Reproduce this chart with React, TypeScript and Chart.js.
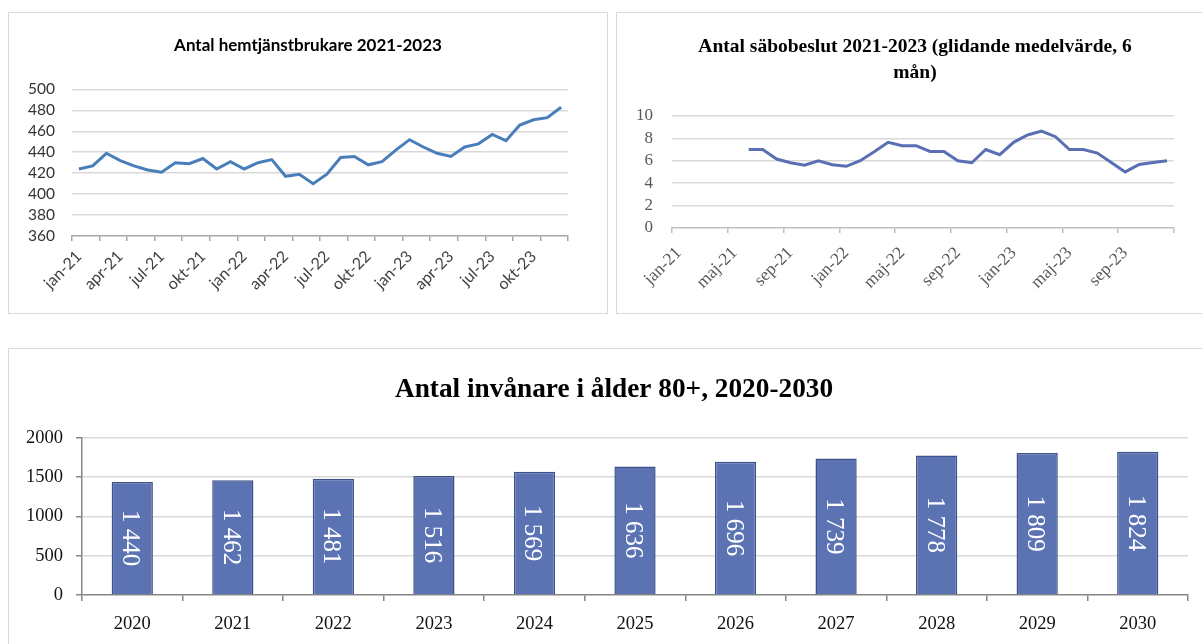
import { useEffect, useRef } from 'react';
import { Chart, registerables } from 'chart.js';

Chart.register(...registerables);

// ---------- DATA ----------
const months = [
  'jan-21', 'feb-21', 'mar-21', 'apr-21', 'maj-21', 'jun-21', 'jul-21', 'aug-21', 'sep-21', 'okt-21', 'nov-21', 'dec-21',
  'jan-22', 'feb-22', 'mar-22', 'apr-22', 'maj-22', 'jun-22', 'jul-22', 'aug-22', 'sep-22', 'okt-22', 'nov-22', 'dec-22',
  'jan-23', 'feb-23', 'mar-23', 'apr-23', 'maj-23', 'jun-23', 'jul-23', 'aug-23', 'sep-23', 'okt-23', 'nov-23', 'dec-23',
];

const hemtjanstValues = [
  424, 427, 439, 432, 427, 423, 421, 430, 429, 434, 424, 431,
  424, 430, 433, 417, 419, 410, 419, 435, 436, 428, 431, 442,
  452, 445, 439, 436, 445, 448, 457, 451, 466, 471, 473, 483,
];

const saboValues: (number | null)[] = [
  null, null, null, null, null, 7.0, 7.0, 6.15, 5.82, 5.6, 6.0, 5.64,
  5.5, 6.0, 6.8, 7.64, 7.34, 7.34, 6.83, 6.83, 6.0, 5.82, 7.0, 6.54,
  7.64, 8.3, 8.65, 8.14, 7.0, 7.0, 6.68, 5.85, 5.0, 5.67, 5.85, 6.0,
];

const years = ['2020', '2021', '2022', '2023', '2024', '2025', '2026', '2027', '2028', '2029', '2030'];
const invanareValues = [1440, 1462, 1481, 1516, 1569, 1636, 1696, 1739, 1778, 1809, 1824];

const title1 = 'Antal hemtjänstbrukare 2021-2023';
const title2 = ['Antal säbobeslut 2021-2023 (glidande medelvärde, 6', 'mån)'];
const title3 = 'Antal invånare i ålder 80+, 2020-2030';

const hemAxis = { min: 360, max: 500, step: 20 };
const saboAxis = { min: 0, max: 10, step: 2 };
const invAxis = { min: 0, max: 2000, step: 500 };

// ---------- HELPERS ----------
const fmtThousands = (v: number) => String(v).replace(/\B(?=(\d{3})+(?!\d))/g, ' ');
const SERIF = '"Liberation Serif", "Times New Roman", serif';
const SANS = 'Lato, "Open Sans", sans-serif';

// invisible right-hand spacer axis (keeps the title centred over the whole chart box)
const spacerAxis = (width: number) => ({
  type: 'linear',
  position: 'right',
  display: true,
  min: 0,
  max: 1,
  grid: { display: false, drawOnChartArea: false, drawTicks: false },
  border: { display: false },
  ticks: { display: false },
  afterFit: (s: any) => {
    s.width = width;
  },
});

const barLabelPlugin = {
  id: 'barLabels',
  afterDatasetsDraw(chart: any) {
    const { ctx } = chart;
    const meta = chart.getDatasetMeta(0);
    const data = chart.data.datasets[0].data as number[];
    ctx.save();
    ctx.fillStyle = '#ffffff';
    ctx.font = `25px ${SERIF}`;
    ctx.textAlign = 'center';
    ctx.textBaseline = 'alphabetic';
    meta.data.forEach((bar: any, i: number) => {
      const { x, y, base } = bar.getProps(['x', 'y', 'base'], true);
      ctx.save();
      ctx.translate(x, (y + base) / 2);
      ctx.rotate(Math.PI / 2);
      ctx.fillText(fmtThousands(data[i]), 0, 9);
      ctx.restore();
    });
    ctx.restore();
  },
};

function config1(): any {
  return {
    type: 'line',
    data: {
      labels: months,
      datasets: [
        {
          data: hemtjanstValues,
          borderColor: '#4a7ebb',
          borderWidth: 3,
          pointRadius: 0,
          tension: 0,
          fill: false,
          yAxisID: 'y',
        },
      ],
    },
    options: {
      animation: false,
      responsive: true,
      maintainAspectRatio: false,
      layout: { padding: { left: 0, right: 0, top: 0, bottom: 0 } },
      plugins: {
        legend: { display: false },
        tooltip: { enabled: false },
        title: {
          display: true,
          text: title1,
          color: '#000000',
          font: { family: SANS, weight: 'bold', size: 17, lineHeight: 1.2 },
          padding: { top: 22, bottom: 34 },
        },
      },
      scales: {
        x: {
          type: 'category',
          offset: true,
          grid: {
            offset: true,
            drawOnChartArea: false,
            drawTicks: true,
            tickLength: 5,
            lineWidth: 1.5,
            color: (c: any) => (c.type !== 'tick' || c.index % 2 === 0 ? '#a6a6a6' : 'rgba(0,0,0,0)'),
          },
          border: { display: true, color: '#a6a6a6', width: 1.5 },
          ticks: {
            autoSkip: false,
            maxRotation: 45,
            minRotation: 45,
            padding: 6,
            color: '#404040',
            font: { family: SANS, size: 16 },
            callback: (_v: any, i: number) => (i % 3 === 0 ? months[i] : ''),
          },
          afterFit: (s: any) => {
            s.height = 77;
          },
        },
        y: {
          min: hemAxis.min,
          max: hemAxis.max,
          ticks: {
            stepSize: hemAxis.step,
            autoSkip: false,
            padding: 17,
            color: '#333333',
            font: { family: SANS, size: 15.5 },
          },
          grid: {
            drawTicks: false,
            lineWidth: 1.5,
            color: (c: any) => (c.tick && c.tick.value === hemAxis.min ? 'rgba(0,0,0,0)' : '#d9d9d9'),
          },
          border: { display: false },
          afterFit: (s: any) => {
            s.width = 63;
          },
        },
        spacer: spacerAxis(39),
      },
    },
  };
}

function config2(): any {
  return {
    type: 'line',
    data: {
      labels: months,
      datasets: [
        {
          data: saboValues,
          borderColor: '#5a6eb4',
          borderWidth: 3,
          pointRadius: 0,
          tension: 0,
          fill: false,
          yAxisID: 'y',
        },
      ],
    },
    options: {
      animation: false,
      responsive: true,
      maintainAspectRatio: false,
      layout: { padding: { left: 0, right: 0, top: 0, bottom: 0 } },
      plugins: {
        legend: { display: false },
        tooltip: { enabled: false },
        title: {
          display: true,
          text: title2,
          color: '#000000',
          font: { family: SERIF, weight: 'bold', size: 19.5, lineHeight: 1.33 },
          padding: { top: 21, bottom: 30 },
        },
      },
      scales: {
        x: {
          type: 'category',
          offset: true,
          grid: {
            offset: true,
            drawOnChartArea: false,
            drawTicks: true,
            tickLength: 5,
            lineWidth: 1.5,
            color: (c: any) => (c.type !== 'tick' || c.index % 4 === 0 ? '#bfbfbf' : 'rgba(0,0,0,0)'),
          },
          border: { display: true, color: '#bfbfbf', width: 1.5 },
          ticks: {
            autoSkip: false,
            maxRotation: 45,
            minRotation: 45,
            padding: 10,
            color: '#595959',
            font: { family: SERIF, size: 17.5 },
            callback: (_v: any, i: number) => (i % 4 === 0 ? months[i] : ''),
          },
          afterFit: (s: any) => {
            s.height = 85;
          },
        },
        y: {
          min: saboAxis.min,
          max: saboAxis.max,
          ticks: {
            stepSize: saboAxis.step,
            autoSkip: false,
            padding: 19,
            color: '#595959',
            font: { family: SERIF, size: 17 },
          },
          grid: {
            drawTicks: false,
            lineWidth: 1.5,
            color: (c: any) => (c.tick && c.tick.value === saboAxis.min ? 'rgba(0,0,0,0)' : '#d9d9d9'),
          },
          border: { display: false },
          afterFit: (s: any) => {
            s.width = 55;
          },
        },
        spacer: spacerAxis(39),
      },
    },
  };
}

function config3(): any {
  return {
    type: 'bar',
    data: {
      labels: years,
      datasets: [
        {
          data: invanareValues,
          backgroundColor: '#5b73b3',
          borderColor: '#3d5189',
          borderWidth: 1.5,
          barPercentage: 0.41,
          categoryPercentage: 1,
          yAxisID: 'y',
        },
      ],
    },
    plugins: [barLabelPlugin],
    options: {
      animation: false,
      responsive: true,
      maintainAspectRatio: false,
      layout: { padding: { left: 0, right: 0, top: 0, bottom: 0 } },
      plugins: {
        legend: { display: false },
        tooltip: { enabled: false },
        title: {
          display: true,
          text: title3,
          color: '#000000',
          font: { family: SERIF, weight: 'bold', size: 27.3, lineHeight: 1.2 },
          padding: { top: 25, bottom: 31.2 },
        },
      },
      scales: {
        x: {
          type: 'category',
          offset: true,
          grid: {
            offset: true,
            drawOnChartArea: false,
            drawTicks: true,
            tickLength: 6,
            lineWidth: 1.5,
            color: '#868686',
          },
          border: { display: true, color: '#868686', width: 1.5 },
          ticks: {
            autoSkip: false,
            maxRotation: 0,
            minRotation: 0,
            padding: 12,
            color: '#111111',
            font: { family: SERIF, size: 18.5 },
          },
          afterFit: (s: any) => {
            s.height = 58;
          },
        },
        y: {
          min: invAxis.min,
          max: invAxis.max,
          ticks: {
            stepSize: invAxis.step,
            autoSkip: false,
            padding: 13,
            color: '#111111',
            font: { family: SERIF, size: 18.5 },
            callback: (v: any) => String(v),
          },
          grid: {
            drawTicks: true,
            tickLength: 6,
            tickColor: '#868686',
            lineWidth: 1.5,
            color: (c: any) => (c.tick && c.tick.value === invAxis.min ? 'rgba(0,0,0,0)' : '#d9d9d9'),
          },
          border: { display: true, color: '#868686', width: 1.5 },
          afterFit: (s: any) => {
            s.width = 73;
          },
        },
        spacer: spacerAxis(31),
      },
    },
  };
}

function ChartBox({ box, makeConfig }: { box: any; makeConfig: () => any }) {
  const ref = useRef<HTMLCanvasElement | null>(null);
  useEffect(() => {
    if (!ref.current) return;
    const chart = new Chart(ref.current, makeConfig());
    return () => chart.destroy();
  }, [makeConfig]);
  return (
    <div
      style={{
        position: 'absolute',
        boxSizing: 'border-box',
        border: '1px solid #d9d9d9',
        background: '#ffffff',
        ...box,
      }}
    >
      <div style={{ position: 'relative', width: '100%', height: '100%' }}>
        <canvas ref={ref} />
      </div>
    </div>
  );
}

export default function App() {
  return (
    <div
      style={{
        position: 'fixed',
        left: 0,
        top: 0,
        width: 1202,
        height: 644,
        overflow: 'hidden',
        background: '#ffffff',
      }}
    >
      <ChartBox box={{ left: 8, top: 12, width: 600, height: 302 }} makeConfig={config1} />
      <ChartBox box={{ left: 616, top: 12, width: 598, height: 302 }} makeConfig={config2} />
      <ChartBox box={{ left: 8, top: 348, width: 1212, height: 306 }} makeConfig={config3} />
    </div>
  );
}
